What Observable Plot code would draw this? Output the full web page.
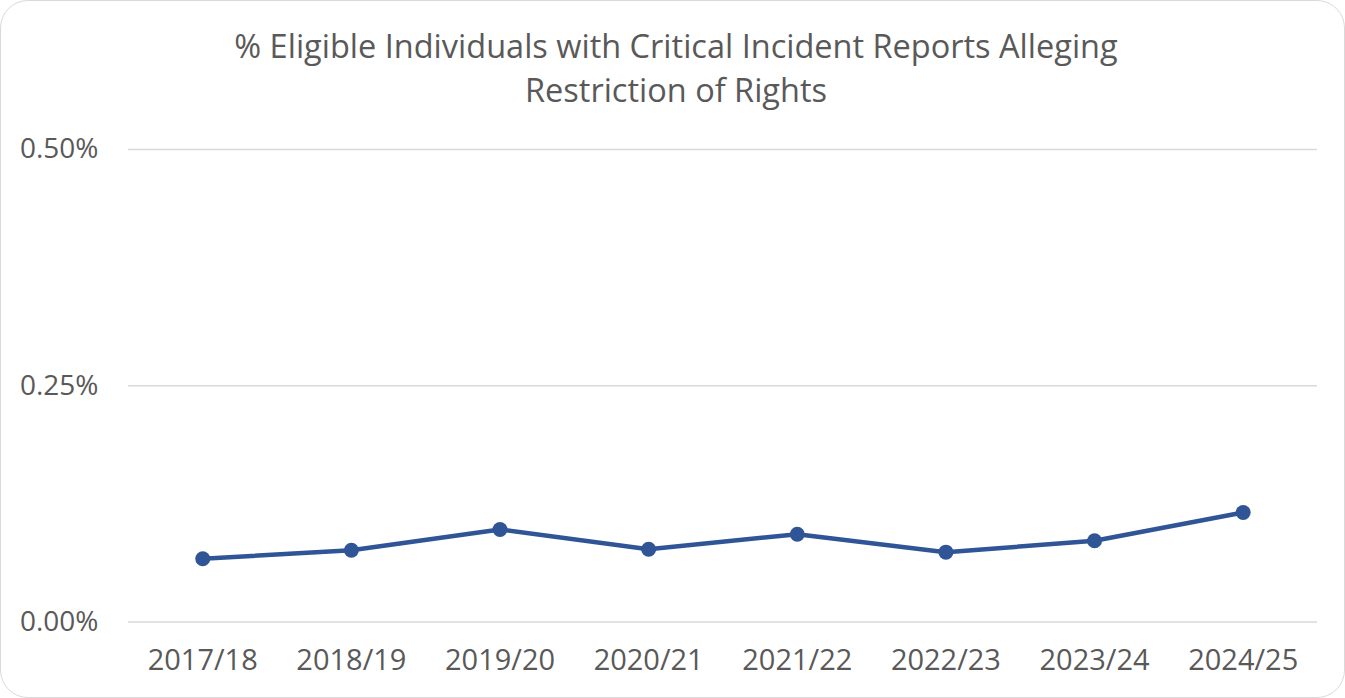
<!DOCTYPE html>
<html>
<head>
<meta charset="utf-8">
<script src="https://cdn.jsdelivr.net/npm/d3@7"></script>
<script src="https://cdn.jsdelivr.net/npm/@observablehq/plot@0.6"></script>
<style>
  html, body { margin: 0; padding: 0; background: #fff; }
  #frame { position: relative; width: 1343px; height: 696px; border: 1px solid #d9d9d9; border-radius: 28px; background: #fff; overflow: hidden; }
  #title { position: absolute; left: 0; top: 23px; width: 1350px; text-align: center; font-family: "Open Sans", sans-serif; font-size: 32.5px; line-height: 44px; color: #595959; }
  #chart { position: absolute; left: -1px; top: 109px; }
</style>
</head>
<body>
<div id="frame">
  <div id="title">% Eligible Individuals with Critical Incident Reports Alleging<br>Restriction of Rights</div>
  <div id="chart"></div>
</div>
<script>
const years = ["2017/18", "2018/19", "2019/20", "2020/21", "2021/22", "2022/23", "2023/24", "2024/25"];
const values = [0.00067, 0.00076, 0.00098, 0.00077, 0.00093, 0.00074, 0.00086, 0.00116];
const yTicks = [0, 0.0025, 0.005];

const data = years.map((y, i) => ({year: y, value: values[i]}));
const font = '"Open Sans", sans-serif';

const chart = Plot.plot({
  width: 1345,
  height: 589,
  marginLeft: 128,
  marginRight: 27,
  marginTop: 39,
  marginBottom: 77,
  style: {fontFamily: font, fontSize: "28px", color: "#595959", background: "transparent", overflow: "visible"},
  x: {type: "point", domain: years, padding: 0.5, round: false},
  y: {domain: [0, 0.005]},
  marks: [
    Plot.gridY(yTicks, {stroke: "#d9d9d9", strokeOpacity: 1, strokeWidth: 1.5}),
    Plot.axisY(yTicks, {tickSize: 0, tickPadding: 30, tickFormat: d3.format(".2%"), fill: "#595959", fontSize: 28, label: null}),
    Plot.axisX(years, {tickSize: 0, tickPadding: 27, fill: "#595959", fontSize: 29, label: null}),
    Plot.line(data, {x: "year", y: "value", stroke: "#2F5597", strokeWidth: 4.5}),
    Plot.dot(data, {x: "year", y: "value", fill: "#2F5597", r: 7.5, stroke: "none"})
  ]
});
document.getElementById("chart").appendChild(chart);
</script>
</body>
</html>
